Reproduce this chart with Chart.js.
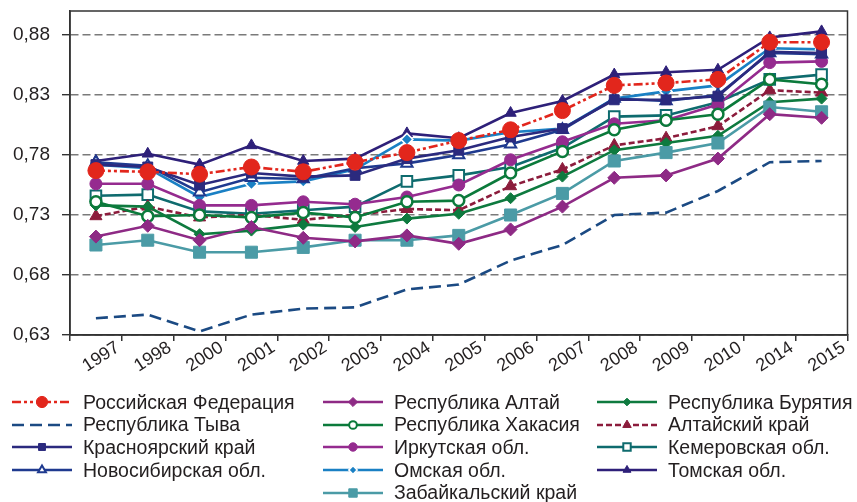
<!DOCTYPE html>
<html>
<head>
<meta charset="utf-8">
<script src="https://cdn.jsdelivr.net/npm/chart.js@4"></script>
<style>
  body{margin:0;background:#fff;}
  #wrap{position:relative;width:857px;height:502px;font-family:Arial,"Liberation Sans",sans-serif;}
  #legend{position:absolute;left:0;top:0;width:857px;height:502px;pointer-events:none;}
  .item{position:absolute;height:20px;display:flex;align-items:center;white-space:nowrap;font-size:19.5px;color:#231f20;}
  .item canvas{margin-right:11px;}
</style>
</head>
<body>
<div id="wrap">
  <canvas id="grafico" width="857" height="380"></canvas>
  <div id="legend"></div>
</div>
<script>
// DATOS
const anios = ["1997","1998","2000","2001","2002","2003","2004","2005","2006","2007","2008","2009","2010","2014","2015"];
const ticksY = [0.63, 0.68, 0.73, 0.78, 0.83, 0.88];

const rusia        = [0.767,0.766,0.764,0.770,0.766,0.774,0.782,0.792,0.801,0.817,0.838,0.840,0.843,0.874,0.874];
const tyva         = [0.644,0.647,0.633,0.647,0.652,0.653,0.668,0.672,0.692,0.705,0.730,0.732,0.750,0.774,0.775];
const krasnoyarsk  = [0.772,0.770,0.755,0.765,0.762,0.763,0.777,0.784,0.795,0.802,0.826,0.826,0.829,0.866,0.865];
const novosibirsk  = [0.774,0.771,0.749,0.761,0.760,0.769,0.773,0.780,0.789,0.801,0.827,0.825,0.830,0.865,0.864];
const altaiResp    = [0.712,0.721,0.709,0.720,0.711,0.708,0.713,0.706,0.718,0.737,0.761,0.763,0.777,0.814,0.811];
const khakasia     = [0.741,0.729,0.730,0.728,0.732,0.728,0.741,0.742,0.765,0.783,0.801,0.809,0.814,0.843,0.839];
const irkutsk      = [0.756,0.756,0.738,0.738,0.741,0.739,0.745,0.755,0.776,0.791,0.806,0.809,0.822,0.857,0.858];
const omsk         = [0.772,0.769,0.745,0.756,0.758,0.768,0.793,0.792,0.799,0.802,0.827,0.833,0.838,0.869,0.868];
const zabaikalsky  = [0.705,0.709,0.699,0.699,0.703,0.709,0.709,0.713,0.730,0.748,0.775,0.782,0.790,0.820,0.816];
const buryatia     = [0.738,0.737,0.714,0.717,0.722,0.720,0.727,0.731,0.744,0.762,0.784,0.790,0.796,0.824,0.827];
const altaiKrai    = [0.729,0.737,0.728,0.730,0.726,0.730,0.735,0.734,0.754,0.768,0.788,0.794,0.804,0.834,0.832];
const kemerovo     = [0.746,0.747,0.733,0.731,0.734,0.737,0.758,0.763,0.770,0.786,0.812,0.813,0.824,0.843,0.847];
const tomsk        = [0.775,0.781,0.772,0.788,0.775,0.777,0.798,0.794,0.815,0.825,0.847,0.849,0.851,0.878,0.883];

// SERIES (orden de la leyenda, por columnas)
const series = [
  {label:"Российская Федерация", data:rusia,       color:"#e2261c", dash:[9,3,3,3,3,3], style:"circle",   r:8,   fill:"#e2261c", bw:1},
  {label:"Республика Тыва",      data:tyva,        color:"#1b4a83", dash:[12,6],        style:false,      r:0},
  {label:"Красноярский край",    data:krasnoyarsk, color:"#2b2a7e", dash:[],            style:"rect",     r:7,   fill:"#2b2a7e", bw:1},
  {label:"Новосибирская обл.",   data:novosibirsk, color:"#1f3a8f", dash:[],            style:"triangle", r:6.5, fill:"#ffffff", bw:2},
  {label:"Республика Алтай",     data:altaiResp,   color:"#8e2a85", dash:[],            style:"rectRot",  r:6.5, fill:"#8e2a85", bw:1},
  {label:"Республика Хакасия",   data:khakasia,    color:"#0b7a3b", dash:[],            style:"circle",   r:5.5, fill:"#ffffff", bw:2.5},
  {label:"Иркутская обл.",       data:irkutsk,     color:"#952b8f", dash:[],            style:"circle",   r:6,   fill:"#952b8f", bw:1},
  {label:"Омская обл.",          data:omsk,        color:"#1a80c4", dash:[],            style:"rectRot",  r:6,   fill:"#1a80c4", bw:1.5, border:"#ffffff"},
  {label:"Забайкальский край",   data:zabaikalsky, color:"#4b9ba6", dash:[],            style:"rect",     r:8.5, fill:"#4b9ba6", bw:1},
  {label:"Республика Бурятия",   data:buryatia,    color:"#0e7a3f", dash:[],            style:"rectRot",  r:5.5, fill:"#0e7a3f", bw:1},
  {label:"Алтайский край",       data:altaiKrai,   color:"#8c1c3c", dash:[6,3],         style:"triangle", r:7,   fill:"#8c1c3c", bw:1},
  {label:"Кемеровская обл.",     data:kemerovo,    color:"#0e6b6e", dash:[],            style:"rect",     r:7.5, fill:"#ffffff", bw:2},
  {label:"Томская обл.",         data:tomsk,       color:"#2e2079", dash:[],            style:"triangle", r:6.5, fill:"#2e2079", bw:1}
];

const fuente = 'Arial, "Liberation Sans", sans-serif';

const marco = {
  id:'marco',
  beforeDatasetsDraw(chart){
    const a = chart.chartArea, ctx = chart.ctx;
    ctx.save();
    ctx.strokeStyle = '#333';
    ctx.lineWidth = 1.5;
    ctx.strokeRect(a.left, a.top, a.right - a.left, a.bottom - a.top);
    ctx.restore();
  }
};

new Chart(document.getElementById('grafico'), {
  type:'line',
  data:{
    labels:anios,
    datasets:series.map(s => ({
      label:s.label,
      data:s.data,
      borderColor:s.color,
      borderWidth:2.6,
      borderDash:s.dash,
      tension:0,
      fill:false,
      pointStyle:s.style,
      pointRadius:s.r,
      pointBackgroundColor:s.fill || s.color,
      pointBorderColor:s.border || s.color,
      pointBorderWidth:s.bw || 0
    }))
  },
  options:{
    responsive:false,
    animation:false,
    layout:{padding:{left:0, right:0, top:11, bottom:0}},
    plugins:{legend:{display:false}, tooltip:{enabled:false}},
    scales:{
      x:{
        offset:true,
        grid:{offset:true, drawOnChartArea:false, drawTicks:true, tickLength:6, tickColor:'#333', lineWidth:1.5},
        border:{color:'#333', width:1.5},
        ticks:{color:'#231f20', font:{family:fuente, size:18}, minRotation:33, maxRotation:33, autoSkip:false, labelOffset:22, padding:-4},
        afterFit(scale){ scale.height = 45; scale.paddingLeft = 0; scale.paddingRight = 0; }
      },
      y:{
        min:0.63,
        max:0.9,
        afterBuildTicks(scale){ scale.ticks = ticksY.map(v => ({value:v})); },
        grid:{color:'#7a7a7a', lineWidth:1.4, tickColor:'#333', tickLength:8, tickBorderDash:[]},
        border:{display:true, color:'#333', width:1.5, dash:[8,4]},
        ticks:{color:'#231f20', font:{family:fuente, size:19}, padding:12,
               callback:v => v.toFixed(2).replace('.', ',')},
        afterFit(scale){ scale.width = 70; scale.paddingTop = 0; scale.paddingBottom = 0; }
      }
    }
  },
  plugins:[marco]
});

// LEYENDA
function marcador(ctx, estilo, x, y, r){
  ctx.beginPath();
  if(estilo === 'circle'){
    ctx.arc(x, y, r, 0, Math.PI * 2);
  } else if(estilo === 'rect'){
    const s = r * Math.SQRT1_2;
    ctx.rect(x - s, y - s, 2 * s, 2 * s);
  } else if(estilo === 'rectRot'){
    ctx.moveTo(x, y - r); ctx.lineTo(x + r, y); ctx.lineTo(x, y + r); ctx.lineTo(x - r, y); ctx.closePath();
  } else if(estilo === 'triangle'){
    ctx.moveTo(x, y - r); ctx.lineTo(x + r * 0.866, y + r * 0.5); ctx.lineTo(x - r * 0.866, y + r * 0.5); ctx.closePath();
  }
}

const columnas = [[0,1,2,3],[4,5,6,7,8],[9,10,11,12]];
const colX = [12, 323, 597];
const legend = document.getElementById('legend');

columnas.forEach((col, c) => {
  col.forEach((idx, fila) => {
    const s = series[idx];
    const div = document.createElement('div');
    div.className = 'item';
    div.style.left = colX[c] + 'px';
    div.style.top = (392 + fila * 22.7) + 'px';

    const cv = document.createElement('canvas');
    cv.width = 60; cv.height = 20;
    const ctx = cv.getContext('2d');
    ctx.strokeStyle = s.color;
    ctx.lineWidth = 2.6;
    ctx.setLineDash(s.dash);
    ctx.beginPath(); ctx.moveTo(0, 10); ctx.lineTo(60, 10); ctx.stroke();
    ctx.setLineDash([]);
    if(s.style){
      marcador(ctx, s.style, 30, 10, s.r * 0.7);
      ctx.fillStyle = s.fill;
      ctx.fill();
      ctx.strokeStyle = s.border || s.color;
      ctx.lineWidth = Math.min(s.bw, 2);
      ctx.stroke();
    }
    div.appendChild(cv);

    const txt = document.createElement('span');
    txt.textContent = s.label;
    div.appendChild(txt);
    legend.appendChild(div);
  });
});
</script>
</body>
</html>
